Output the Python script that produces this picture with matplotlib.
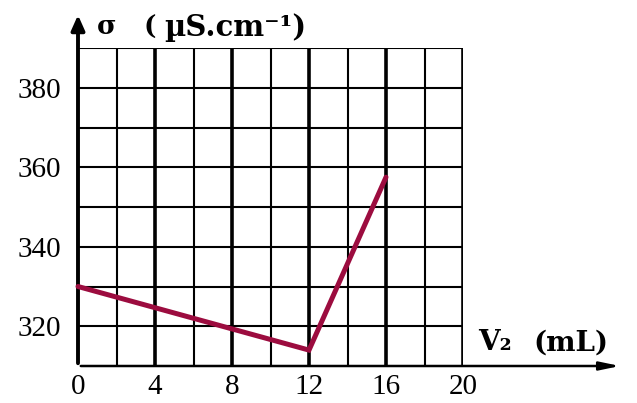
import matplotlib
matplotlib.use("Agg")
import matplotlib.pyplot as plt
import numpy as np

# Data
volume_ml = [0, 12, 16]
conductivity = [330, 314, 357.5]
x_major_ticks = [0, 4, 8, 12, 16, 20]
x_minor_ticks = [2, 6, 10, 14, 18]
y_tick_labels = [320, 340, 360, 380]
y_grid = [320, 330, 340, 350, 360, 370, 380, 390]

serif = ['Liberation Serif', 'DejaVu Serif']
wide = ['DejaVu Serif']

fig = plt.figure(figsize=(6.37, 4.03), dpi=100)
ax = fig.add_axes([78/637, 37/403, (463-78)/637, (366-48)/403])
ax.set_xlim(0, 20)
ax.set_ylim(310, 390)

for s in ax.spines.values():
    s.set_visible(False)

# grid
for xv in x_major_ticks[1:]:
    ax.axvline(xv, color='black', lw=2.6, zorder=1)
for xv in x_minor_ticks:
    ax.axvline(xv, color='black', lw=1.5, zorder=1)
for yv in y_grid:
    ax.axhline(yv, color='black', lw=1.5, zorder=1)

# axes with arrows
ax.annotate('', xy=(28.3, 310), xytext=(0, 310), xycoords='data',
            arrowprops=dict(arrowstyle='-|>,head_length=1.2,head_width=0.25', color='black', lw=1.8),
            annotation_clip=False, zorder=3)
ax.annotate('', xy=(0, 399), xytext=(0, 310), xycoords='data',
            arrowprops=dict(arrowstyle='-|>,head_length=0.9,head_width=0.4', color='black', lw=2.8),
            annotation_clip=False, zorder=3)

# data line
ax.plot(volume_ml, conductivity, color='#9C0C3F', lw=3.6, solid_capstyle='round',
        solid_joinstyle='miter', zorder=4, clip_on=False)

ax.set_xticks(x_major_ticks)
ax.set_xticklabels([str(v) for v in x_major_ticks], family=serif, fontsize=21)
ax.set_yticks(y_tick_labels)
ax.set_yticklabels([str(v) for v in y_tick_labels], family=serif, fontsize=21)
ax.tick_params(axis='x', length=0, pad=6)
ax.tick_params(axis='y', length=0, pad=12)

# y-axis title (pieces spaced like the reference)
yt = 1 - 27/403
fig.text(97/637, yt, 'σ', family=wide, fontsize=19, fontweight='bold', ha='left', va='center')
fig.text(143/637, yt, '(', family=wide, fontsize=19, fontweight='bold', ha='left', va='center')
fig.text(164/637, yt, 'µS.cm⁻¹)', family=wide, fontsize=21, fontweight='bold', ha='left', va='center')

# x-axis title
xt = 1 - 343/403
fig.text(478/637, xt, 'V₂', family=wide, fontsize=20, fontweight='bold', ha='left', va='center')
fig.text(533/637, xt, '(mL)', family=wide, fontsize=20, fontweight='bold', ha='left', va='center')

fig.savefig('out.png', dpi=100)
